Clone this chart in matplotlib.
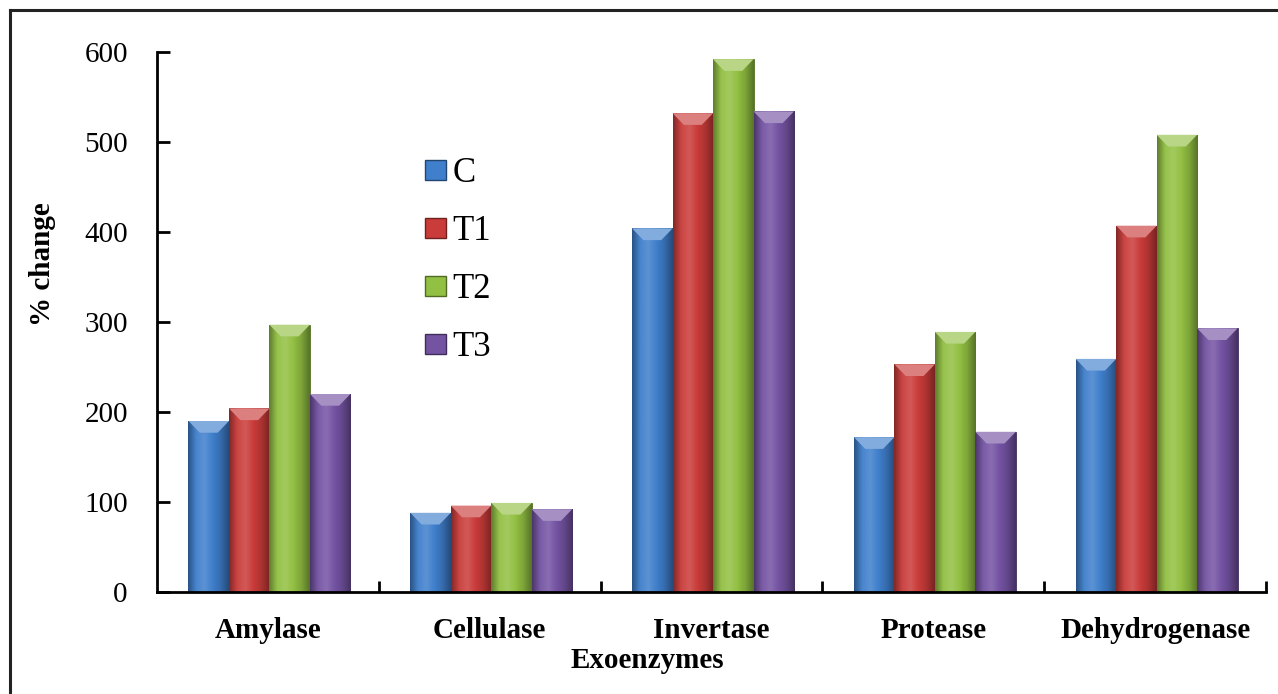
import numpy as np
import matplotlib
matplotlib.use('Agg')
import matplotlib.pyplot as plt
from matplotlib.patches import Patch, Polygon
from matplotlib.lines import Line2D
from matplotlib.colors import to_rgb

# Data
enzymes = ['Amylase', 'Cellulase', 'Invertase', 'Protease', 'Dehydrogenase']
series_names = ['C', 'T1', 'T2', 'T3']
c_vals = [190, 88, 404, 172, 259]
t1_vals = [204, 96, 532, 253, 407]
t2_vals = [297, 99, 592, 289, 508]
t3_vals = [220, 92, 534, 178, 293]
y_ticks = [0, 100, 200, 300, 400, 500, 600]

colors = ['#3F7FCC', '#C93C3A', '#92C043', '#7453A3']

plt.rcParams['font.family'] = ['Liberation Serif', 'DejaVu Serif']

W, H = 1278, 694
fig = plt.figure(figsize=(W / 100, H / 100), dpi=100)
ax = fig.add_axes([157 / W, 1 - 592 / H, (1266 - 157) / W, (592 - 52) / H])


def shade(rgb, f):
    rgb = np.array(rgb)
    if f < 0:
        return rgb * (1 + f)
    return rgb + (1 - rgb) * f


def draw_bar(patch, color):
    x, w, h = patch.get_x(), patch.get_width(), patch.get_height()
    base = np.array(to_rgb(color))
    # horizontal gradient to fake the bevelled 3D look
    stops = [-0.35, 0.05, 0.15, 0.0, -0.15, -0.4]
    pos = np.linspace(0, 1, len(stops))
    xs = np.linspace(0, 1, 64)
    grad = np.zeros((1, 64, 3))
    for k in range(3):
        vals = [shade(base, s)[k] for s in stops]
        grad[0, :, k] = np.interp(xs, pos, vals)
    im = ax.imshow(np.clip(grad, 0, 1), extent=(x, x + w, 0, h), aspect='auto',
                   zorder=2, interpolation='bicubic')
    im.set_clip_path(patch)
    cap = 13
    poly = Polygon([(x, h), (x + w, h), (x + w * 0.72, h - cap), (x + w * 0.28, h - cap)],
                   closed=True, facecolor=shade(base, 0.35), edgecolor='none', zorder=3)
    ax.add_patch(poly)


n = len(series_names)
bw = 0.1825
x = np.arange(len(enzymes)) + 0.5
all_vals = [c_vals, t1_vals, t2_vals, t3_vals]
for i, (vals, col) in enumerate(zip(all_vals, colors)):
    offs = (i - (n - 1) / 2) * bw + 0.007
    bars = ax.bar(x + offs, vals, width=bw, color=col, edgecolor=shade(to_rgb(col), -0.45),
                  linewidth=0.6, zorder=1)
    for b in bars:
        draw_bar(b, col)

ax.set_xlim(0, len(enzymes))
ax.set_ylim(0, 600)

for s in ['top', 'right']:
    ax.spines[s].set_visible(False)
for s in ['left', 'bottom']:
    ax.spines[s].set_linewidth(2)
    ax.spines[s].set_zorder(5)

ax.set_yticks(y_ticks)
ax.set_yticklabels([str(v) for v in y_ticks], fontsize=21)
ax.tick_params(axis='y', direction='in', length=9, width=2, pad=21)

ax.set_xticks(x)
ax.set_xticklabels(enzymes, fontsize=21, fontweight='bold')
ax.set_xticks(np.arange(1, len(enzymes) + 1), minor=True)
ax.tick_params(axis='x', which='major', length=0, pad=18)
ax.tick_params(axis='x', which='minor', direction='in', length=8, width=2)

fig.text(647 / W, 1 - 660 / H, 'Exoenzymes', ha='center', va='center',
         fontsize=21, fontweight='bold')
fig.text(43 / W, 1 - 264 / H, '% change', rotation=90, ha='center', va='center',
         fontsize=21, fontweight='bold')

handles = [Patch(facecolor=c, edgecolor=shade(to_rgb(c), -0.45)) for c in colors]
fig.legend(handles, series_names, loc='upper left', bbox_to_anchor=(425 / W, 1 - 157 / H),
           frameon=False, fontsize=25, handlelength=0.6, handleheight=0.5,
           handletextpad=0.2, labelspacing=0.72, borderpad=0, borderaxespad=0)

# outer frame (only left and top edges are visible in the reference)
fig.add_artist(Line2D([10 / W, 10 / W], [0, 1 - 10 / H], color='#222222', linewidth=2.2))
fig.add_artist(Line2D([10 / W, 1], [1 - 10 / H, 1 - 10 / H], color='#222222', linewidth=2.2))

fig.savefig('out.png', dpi=100)
